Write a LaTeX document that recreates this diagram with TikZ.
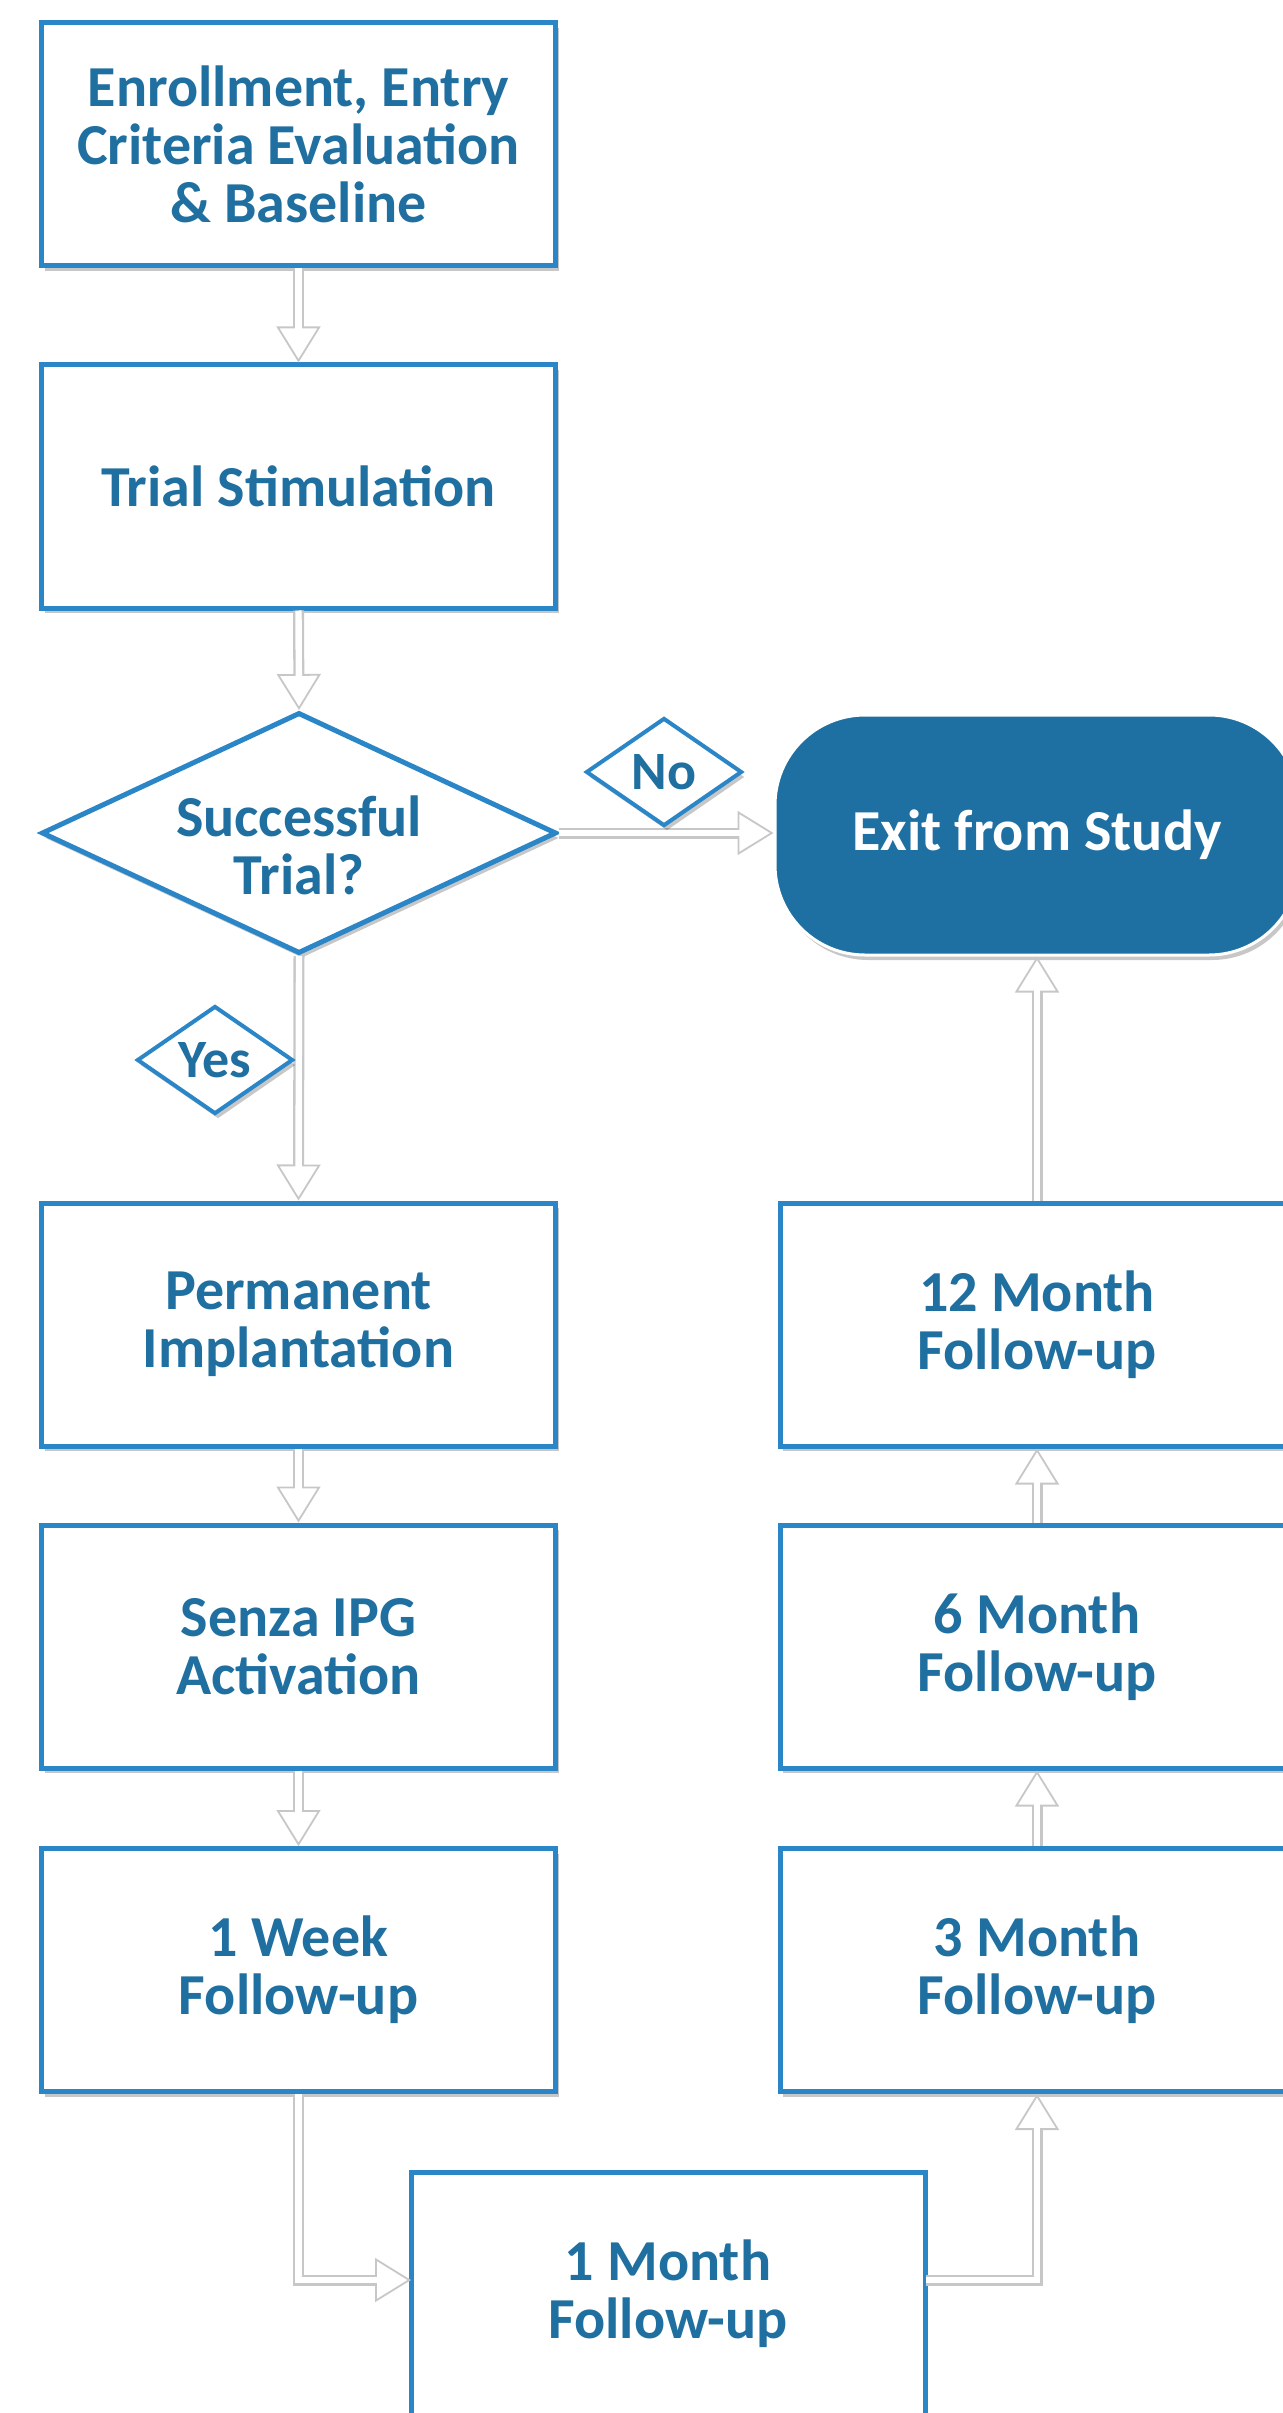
\documentclass[tikz,border=0pt]{standalone}
\usepackage{fontspec}
\setmainfont{Carlito}
\usetikzlibrary{arrows.meta,shapes.geometric,shadows}
\definecolor{tblue}{RGB}{31,111,160}
\definecolor{bblue}{RGB}{42,134,198}
\definecolor{efill}{RGB}{31,112,162}
\begin{document}
\begin{tikzpicture}[x=0.5pt,y=-0.5pt,
  boxshadow/.style={drop shadow={shadow xshift=1.5pt,shadow yshift=-2.5pt,opacity=0.22,fill=black}},
  txt/.style={font=\fontsize{29}{29}\selectfont\bfseries},
  stepbox/.style={rectangle, draw=bblue, line width=2.5pt, fill=white,
    minimum width=257pt, minimum height=121.5pt, inner sep=0pt,
    align=center, text=tblue, txt, boxshadow},
  decision/.style={diamond, aspect=2.14, draw=bblue, line width=2.5pt, fill=white,
    minimum width=257.5pt, minimum height=120.5pt, inner sep=0pt, boxshadow},
  labeldia/.style={diamond, aspect=1.41, draw=bblue, line width=2pt, fill=white,
    minimum width=78pt, minimum height=54pt, inner sep=0pt,
    text=tblue, font=\fontsize{27}{28}\selectfont\bfseries, boxshadow},
  terminal/.style={rectangle, rounded corners=45pt, draw=white, line width=1.5pt, fill=efill,
    minimum width=262pt, minimum height=120pt, inner sep=0pt,
    text=white, txt, boxshadow},
  conn/.style={draw=black!22, line width=5.5pt, line join=miter,
    -{Triangle[width=22pt,length=18pt,fill=white,line width=0.9pt]},
    postaction={draw=white, line width=3.2pt, -, shorten >=9pt}}
]
\useasboundingbox (0,0) rectangle (1282,2413);

% left column
\node[stepbox] (b1) at (298.5,144.5) {Enrollment, Entry\\Criteria Evaluation\\\& Baseline};
\node[stepbox] (trial) at (298.5,486.5) {Trial Stimulation};
\node[decision] (dec) at (299,833) {};
\node[txt, text=tblue, align=center] (dectext) at ([yshift=-6pt]dec.center) {Successful\\Trial?};
\node[stepbox] (perm) at (298.5,1324.5) {Permanent\\Implantation};
\node[stepbox] (senza) at (298.5,1646.5) {Senza IPG\\Activation};
\node[stepbox] (week) at (298.5,1970) {1 Week\\Follow-up};
\node[stepbox] (m1) at (668,2294) {1 Month\\Follow-up};

% right column
\node[terminal] (exit) at (1037,835) {Exit from Study};
\node[stepbox] (m12) at (1037,1324.5) {12 Month\\Follow-up};
\node[stepbox] (m6) at (1037,1646.5) {6 Month\\Follow-up};
\node[stepbox] (m3) at (1037,1970) {3 Month\\Follow-up};

% connectors
\draw[conn] (b1.south) -- (trial.north);
\draw[conn] (trial.south) -- (dec.north);
\draw[conn] (dec.south) -- (perm.north);
\draw[conn] (dec.east) -- (exit.west |- dec.east);
\draw[conn] (perm.south) -- (senza.north);
\draw[conn] (senza.south) -- (week.north);
\coordinate (jl) at (411,2280);
\coordinate (jr) at (926,2280);
\draw[conn] (week.south) |- (jl);
\draw[conn] (jr) -| (m3.south);
\draw[conn] (m3.north) -- (m6.south);
\draw[conn] (m6.north) -- (m12.south);
\draw[conn] (m12.north) -- (exit.south);

% branch labels
\node[labeldia] (no) at (664,772) {No};
\node[labeldia] (yes) at (215,1060) {Yes};
\end{tikzpicture}
\end{document}
